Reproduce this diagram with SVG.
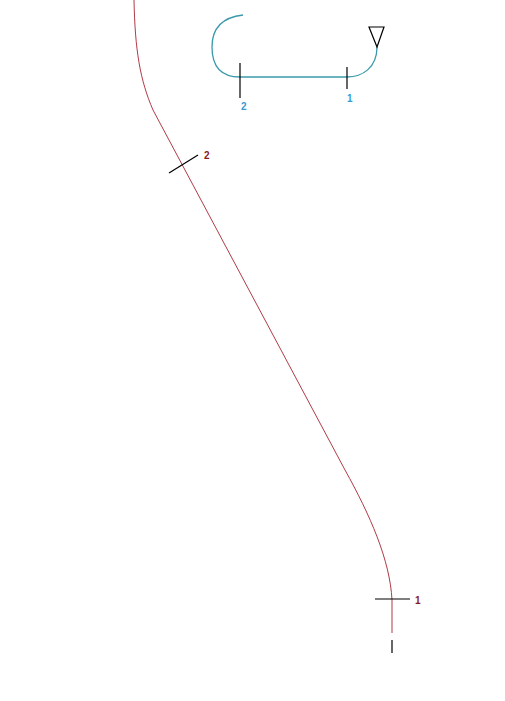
<svg xmlns="http://www.w3.org/2000/svg" width="505" height="701" viewBox="0 0 505 701">
<style>
.red{fill:none;stroke:#b03a48;stroke-width:1}
.blue{fill:none;stroke:#3a9aaa;stroke-width:1.3}
.tick{stroke:#000;stroke-width:1.2;fill:none}
.lr{font-family:"Liberation Sans",Arial,sans-serif;font-size:10px;font-weight:bold;fill:#8b1a1a}
.lb{font-family:"Liberation Sans",Arial,sans-serif;font-size:10px;font-weight:bold;fill:#3a9ad0}
</style>
<rect width="505" height="701" fill="#fff"/>
<g id="connectors">
<path class="red" d="M134,0 C135,50 140,80 153,110 L345,470 C370,515 390,560 392,600 L392,633"/>
<path class="blue" d="M243,15 C225,17 212,25 212,47 C212,68 222,77 240,77 L347,77 C362,77 377,68 377,47"/>
</g>
<g id="tick-red-2"><line class="tick" x1="169" y1="173" x2="198" y2="155"/><text class="lr" x="204" y="159">2</text></g>
<g id="tick-red-1"><line class="tick" x1="375" y1="599" x2="410" y2="599"/><text class="lr" x="415" y="604">1</text></g>
<g id="end-tick"><line class="tick" x1="392" y1="640" x2="392" y2="653"/></g>
<g id="tick-blue-2"><line class="tick" x1="240" y1="63" x2="240" y2="98"/><text class="lb" x="241" y="110">2</text></g>
<g id="tick-blue-1"><line class="tick" x1="347" y1="67" x2="347" y2="89"/><text class="lb" x="347" y="102">1</text></g>
<g id="triangle"><polygon points="369,27 384,27 377,47" fill="#fff" stroke="#000" stroke-width="1.2"/></g>
</svg>
